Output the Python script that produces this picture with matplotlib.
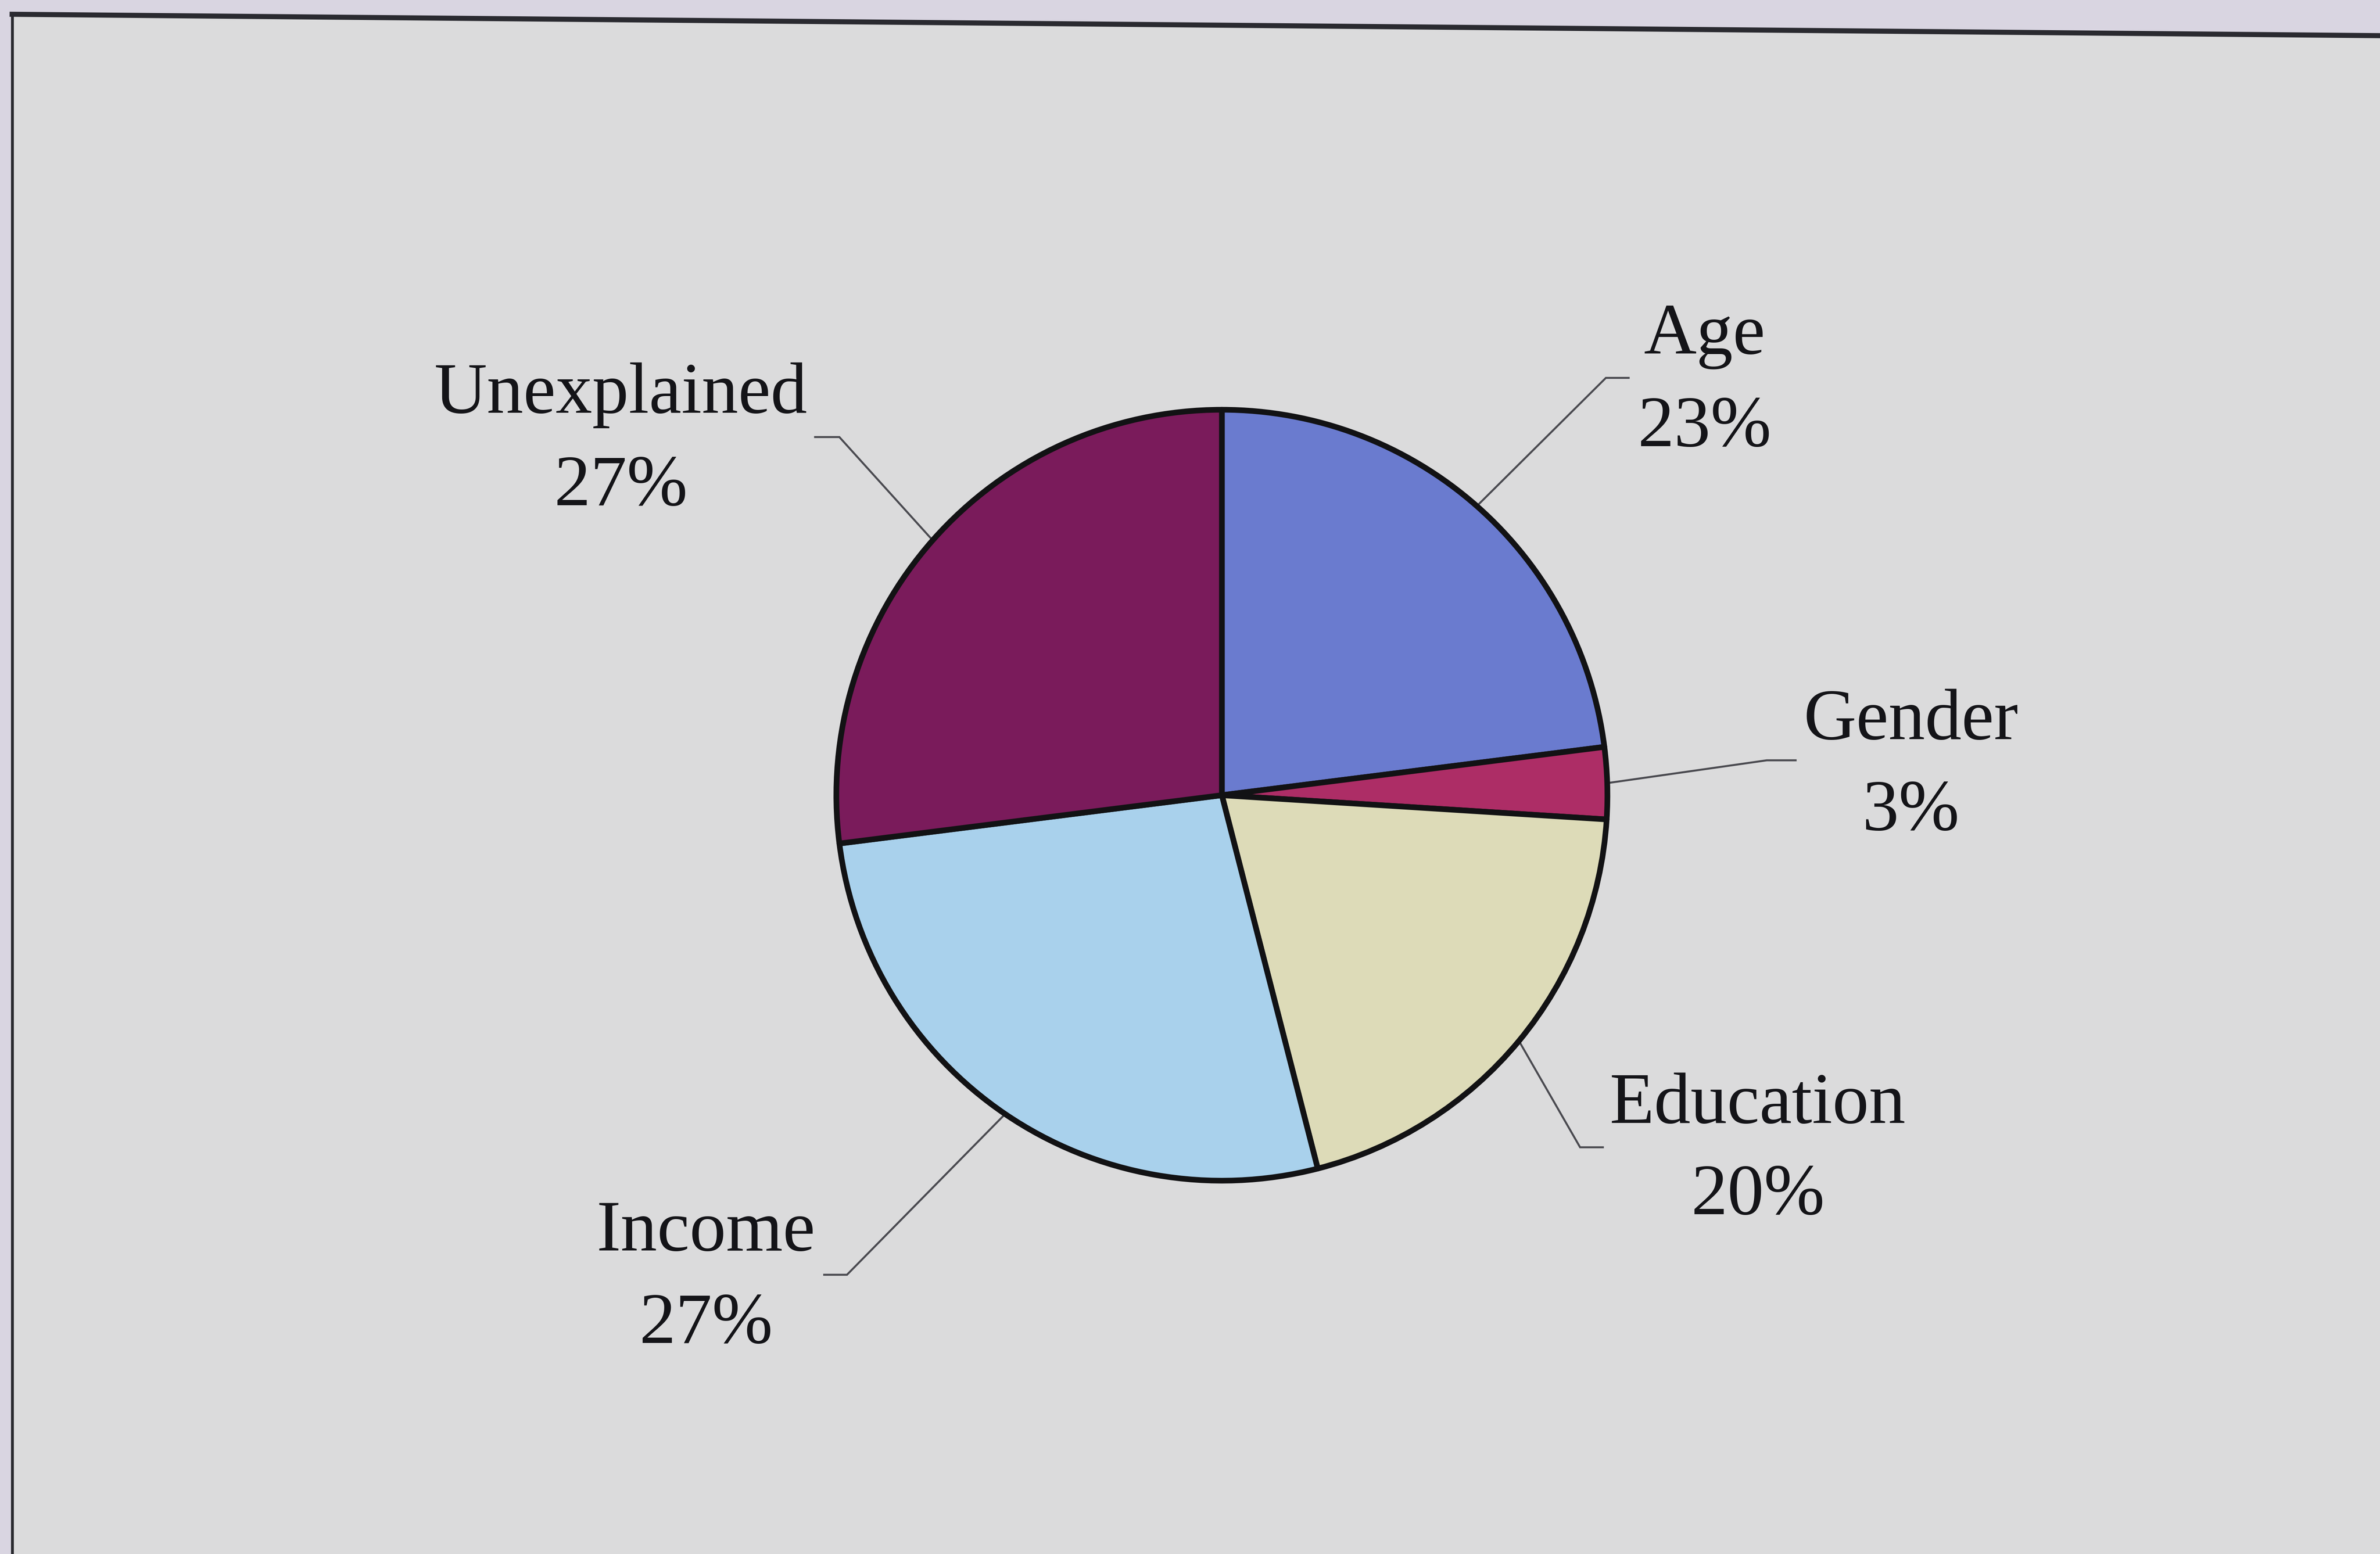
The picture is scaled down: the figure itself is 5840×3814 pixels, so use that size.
import numpy as np
import matplotlib.pyplot as plt
from matplotlib.patches import Polygon

# Share of the gap explained by each factor
labels = ['Age', 'Gender', 'Education', 'Income', 'Unexplained']
shares = [23, 3, 20, 27, 27]
colors = ['#6a7bcf', '#ad2d66', '#dddbb8', '#a9d1ec', '#7a1b5b']

# label placement on a 1568 x 1024 canvas (y measured from the top)
label_x = [1123, 1259, 1158, 465, 409]
name_base = [233, 487, 740, 824, 272]
pct_base = [294, 547, 800, 885, 333]
elbow = [(1058, 249), (1164, 501), (1041, 756), (558, 840), (553, 288)]
stub_end = [1073, 1183, 1056, 543, 537]

W, H = 1568, 1024
fig = plt.figure(figsize=(58.4, 38.14), dpi=100)
fig.patch.set_facecolor('#d9d5e1')
ax = fig.add_axes([0, 0, 1, 1])

# the page with its frame
page = Polygon([(8, H - 9.4), (W, H - 23.5), (W, -5), (8, -5)],
               closed=True, facecolor='#dbdbdc', edgecolor='none', zorder=0)
ax.add_patch(page)
ax.plot([8, W], [H - 9.4, H - 23.5], color='#2a2a30', lw=9, zorder=1)
ax.plot([8, 8], [H - 9.4, 0], color='#2a2a30', lw=5, zorder=1)

cx, cy, r = 805, H - 524, 254
wedges, _ = ax.pie(shares, colors=colors, startangle=90, counterclock=False,
                   center=(cx, cy), radius=r, frame=True,
                   wedgeprops=dict(edgecolor='#121214', linewidth=10,
                                   joinstyle='round'))
for w in wedges:
    w.set_zorder(3)

# leader lines from the middle of each wedge to its label
for i, w in enumerate(wedges):
    mid = np.deg2rad((w.theta1 + w.theta2) / 2)
    x0, y0 = cx + r * np.cos(mid), cy + r * np.sin(mid)
    ex, ey = elbow[i]
    ax.plot([x0, ex, stub_end[i]], [y0, H - ey, H - ey],
            color='#4a4a50', lw=3.5, zorder=2, solid_joinstyle='miter')

font = dict(family='Liberation Serif', fontsize=129, color='#141418',
            ha='center', va='baseline')
for i, name in enumerate(labels):
    ax.text(label_x[i], H - name_base[i], name, **font)
    ax.text(label_x[i], H - pct_base[i], f'{shares[i]}%', **font)

ax.set_xlim(0, W)
ax.set_ylim(0, H)
ax.set_aspect('auto')
ax.axis('off')

fig.savefig('out.png', dpi=100, facecolor=fig.get_facecolor())
